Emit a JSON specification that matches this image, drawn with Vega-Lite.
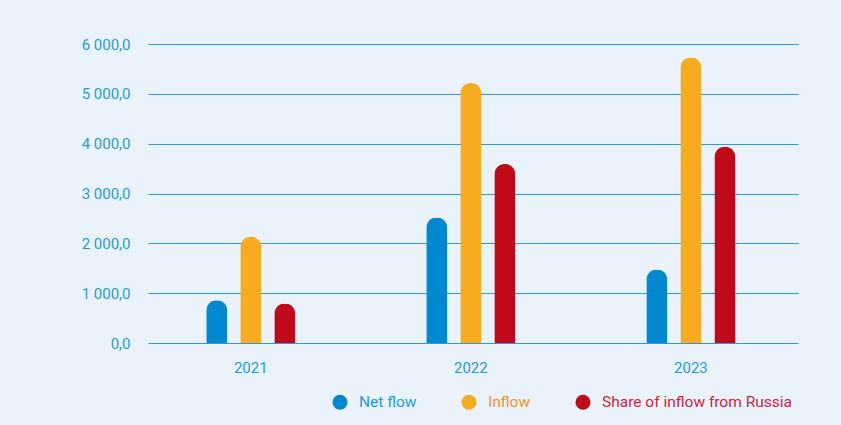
{
  "$schema": "https://vega.github.io/schema/vega-lite/v6.json",
  "width": 650,
  "height": 299,
  "autosize": "none",
  "padding": {"left": 148, "top": 44, "right": 43, "bottom": 82},
  "background": "#eaf3fc",
  "config": {
    "view": {"stroke": null},
    "font": "Roboto",
    "locale": {"number": {"decimal": ",", "thousands": " ", "grouping": [3], "currency": ["", ""]}}
  },
  "data": {
    "values": [
      {"year": "2021", "series": "Net flow", "value": 860},
      {"year": "2021", "series": "Inflow", "value": 2130},
      {"year": "2021", "series": "Share of inflow from Russia", "value": 795},
      {"year": "2022", "series": "Net flow", "value": 2520},
      {"year": "2022", "series": "Inflow", "value": 5215},
      {"year": "2022", "series": "Share of inflow from Russia", "value": 3590},
      {"year": "2023", "series": "Net flow", "value": 1475},
      {"year": "2023", "series": "Inflow", "value": 5730},
      {"year": "2023", "series": "Share of inflow from Russia", "value": 3940}
    ]
  },
  "mark": {"type": "bar", "cornerRadiusTopLeft": 10.5, "cornerRadiusTopRight": 10.5},
  "encoding": {
    "x": {
      "field": "year", "type": "nominal",
      "scale": {"paddingInner": 0.536, "paddingOuter": 0.245, "align": 0.48},
      "axis": {"title": null, "domain": false, "ticks": false, "labelAngle": 0, "labelColor": "#1e9bd7", "labelFontSize": 15, "labelPadding": 17, "labelFont": "Roboto"}
    },
    "xOffset": {
      "field": "series", "type": "nominal",
      "sort": ["Net flow", "Inflow", "Share of inflow from Russia"],
      "scale": {"paddingInner": 0.38, "paddingOuter": 0.19}
    },
    "y": {
      "field": "value", "type": "quantitative",
      "scale": {"domain": [0, 6000], "nice": false},
      "axis": {"title": null, "domain": false, "ticks": false, "values": [0, 1000, 2000, 3000, 4000, 5000, 6000], "labelOverlap": false, "format": ",.1f", "labelColor": "#1e9bd7", "labelFontSize": 15, "labelPadding": 18, "gridColor": "#2a9ad8", "gridWidth": 1, "gridOpacity": 1}
    },
    "color": {
      "field": "series", "type": "nominal",
      "sort": ["Net flow", "Inflow", "Share of inflow from Russia"],
      "scale": {"domain": ["Net flow", "Inflow", "Share of inflow from Russia"], "range": ["#0089d0", "#f7ab1f", "#c00a1a"]},
      "legend": {
        "title": null,
        "orient": "none",
        "direction": "horizontal",
        "legendX": 184,
        "legendY": 350,
        "symbolType": "circle",
        "symbolSize": 227,
        "symbolStrokeWidth": 0,
        "labelFontSize": 15.5,
        "labelFont": "Roboto",
        "labelOffset": 11,
        "labelLimit": 400,
        "columnPadding": 44,
        "encode": {
          "labels": {
            "update": {
              "fill": {"signal": "datum.value === 'Net flow' ? '#1e9bd7' : datum.value === 'Inflow' ? '#f0922c' : '#d0223a'"}
            }
          },
          "symbols": {"update": {"fillOpacity": {"value": 1}}}
        }
      }
    }
  }
}
